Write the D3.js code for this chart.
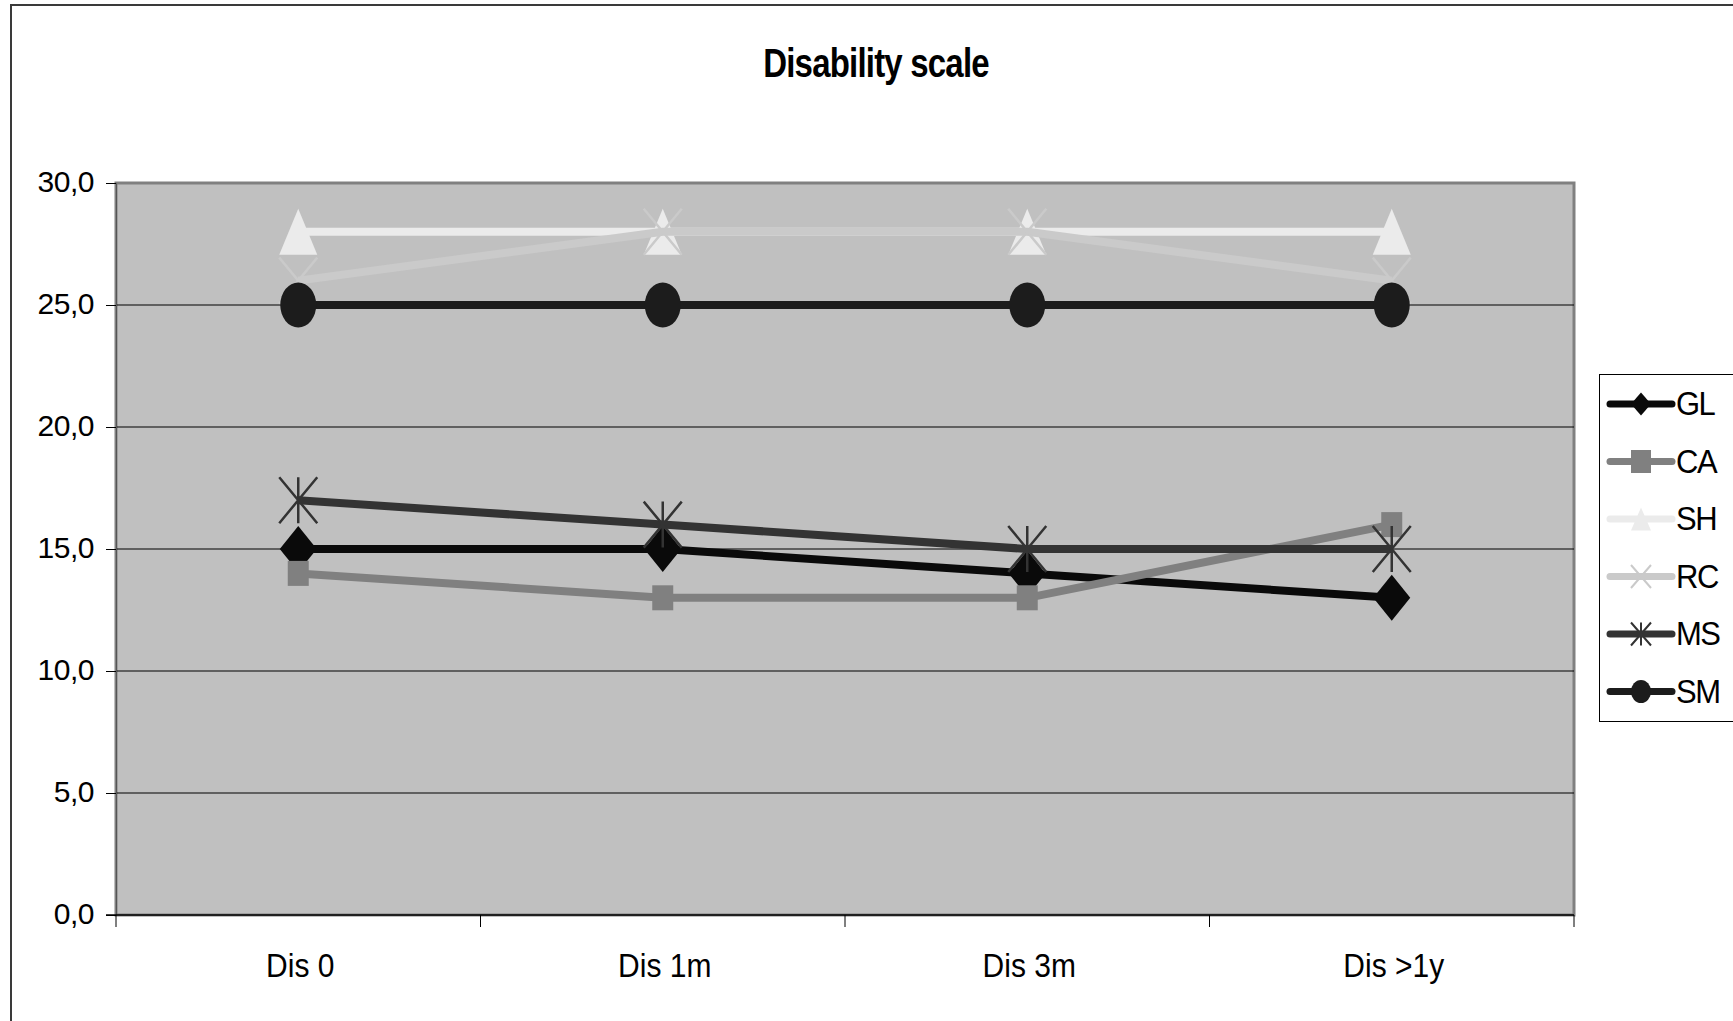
<!DOCTYPE html>
<html>
<head>
<meta charset="utf-8">
<script src="https://cdn.jsdelivr.net/npm/d3@7"></script>
<style>
  html, body { margin: 0; padding: 0; background: #fff; }
  svg { display: block; font-family: "Liberation Sans", Arial, sans-serif; }
</style>
</head>
<body>
<svg id="chart" width="1733" height="1021"></svg>
<script>
// ---- data ----
const categories = ["Dis 0", "Dis 1m", "Dis 3m", "Dis >1y"];
const seriesNames = ["GL", "CA", "SH", "RC", "MS", "SM"];
const GL = [15, 15, 14, 13];
const CA = [14, 13, 13, 16];
const SH = [28, 28, 28, 28];
const RC = [26, 28, 28, 26];
const MS = [17, 16, 15, 15];
const SM = [25, 25, 25, 25];
const yTicks = [0, 5, 10, 15, 20, 25, 30];
const title = "Disability scale";

// ---- styles ----
const seriesValues = { GL, CA, SH, RC, MS, SM };
const styles = {
  GL: { color: "#0a0a0a", marker: "diamond", w: 37, h: 46, lw: 20, lh: 23 },
  CA: { color: "#808080", marker: "square", w: 21, h: 25, lw: 20, lh: 23 },
  SH: { color: "#ebebeb", marker: "triangle", w: 38, h: 46, lw: 20, lh: 23 },
  RC: { color: "#cacaca", marker: "x", w: 38, h: 46, lw: 20, lh: 23 },
  MS: { color: "#333333", marker: "star", w: 38, h: 46, lw: 20, lh: 23 },
  SM: { color: "#1c1c1c", marker: "circle", w: 36, h: 45, lw: 20, lh: 23 }
};

function markerPath(type, w, h) {
  const a = w / 2, b = h / 2;
  switch (type) {
    case "diamond": return `M0,${-b}L${a},0L0,${b}L${-a},0Z`;
    case "square": return `M${-a},${-b}H${a}V${b}H${-a}Z`;
    case "triangle": return `M0,${-b}L${a},${b}L${-a},${b}Z`;
    case "x": return `M${-a},${-b}L${a},${b}M${a},${-b}L${-a},${b}`;
    case "star": return `M${-a},${-b}L${a},${b}M${a},${-b}L${-a},${b}M0,${-b}V${b}`;
    case "circle": return `M${-a},0A${a},${b} 0 1,0 ${a},0A${a},${b} 0 1,0 ${-a},0Z`;
  }
}
function isStroked(type) { return type === "x" || type === "star"; }

const svg = d3.select("#chart");

// outer chart frame
svg.append("rect")
  .attr("x", 11).attr("y", 5).attr("width", 1800).attr("height", 1100)
  .attr("fill", "#fff").attr("stroke", "#3a3a3a").attr("stroke-width", 2);

// title
svg.append("g")
  .attr("transform", "translate(876,77) scale(1,1.22)")
  .append("text")
  .attr("text-anchor", "middle")
  .attr("font-weight", "bold")
  .attr("font-size", 33)
  .attr("letter-spacing", -0.8)
  .attr("fill", "#000")
  .text(title);

// scales
const x0 = 116, x1 = 1574, yTop = 183, yBot = 915;
const x = d3.scaleBand().domain(categories).range([x0, x1]).padding(0);
const xc = c => x(c) + x.bandwidth() / 2;
const y = d3.scaleLinear().domain([0, 30]).range([yBot, yTop]);

// plot area
svg.append("rect")
  .attr("x", x0).attr("y", yTop).attr("width", x1 - x0).attr("height", yBot - yTop)
  .attr("fill", "#c0c0c0").attr("stroke", "#808080").attr("stroke-width", 3);

// gridlines
svg.append("g").selectAll("line")
  .data(yTicks.filter(d => d > 0 && d < 30))
  .join("line")
  .attr("x1", x0).attr("x2", x1)
  .attr("y1", d => y(d)).attr("y2", d => y(d))
  .attr("stroke", "#000").attr("stroke-width", 1);

// y axis
const yAxis = svg.append("g")
  .attr("transform", `translate(${x0},0)`)
  .call(d3.axisLeft(y).tickValues(yTicks)
    .tickFormat(d => d3.format(".1f")(d).replace(".", ","))
    .tickSize(10).tickPadding(12));
yAxis.select(".domain").attr("stroke", "#555").attr("stroke-width", 1);
yAxis.selectAll(".tick line").attr("stroke", "#000");
yAxis.selectAll(".tick text")
  .attr("font-size", 30).attr("font-family", "Liberation Sans, Arial, sans-serif")
  .attr("letter-spacing", -0.5)
  .attr("fill", "#000").attr("dy", "0.27em");

// x axis line and ticks at category boundaries
svg.append("line")
  .attr("x1", x0 - 10).attr("x2", x1).attr("y1", yBot).attr("y2", yBot)
  .attr("stroke", "#000").attr("stroke-width", 1.5);
const bounds = categories.map(c => x(c)).concat([x1]);
svg.append("g").selectAll("line")
  .data(bounds).join("line")
  .attr("x1", d => d).attr("x2", d => d)
  .attr("y1", yBot).attr("y2", yBot + 12)
  .attr("stroke", "#000").attr("stroke-width", 1);
svg.append("g").selectAll("g")
  .data(categories).join("g")
  .attr("transform", d => `translate(${xc(d) + 2},976.5) scale(1,1.12)`)
  .append("text")
  .attr("text-anchor", "middle")
  .attr("font-size", 30)
  .attr("fill", "#000")
  .text(d => d);

// series
const line = d3.line().x((d, i) => xc(categories[i])).y(d => y(d));
const plot = svg.append("g");
seriesNames.forEach(name => {
  const s = styles[name];
  const vals = seriesValues[name];
  const g = plot.append("g");
  g.append("path")
    .attr("d", line(vals))
    .attr("fill", "none")
    .attr("stroke", s.color)
    .attr("stroke-width", 8)
    .attr("stroke-linejoin", "round");
  g.selectAll("path.m")
    .data(vals).join("path")
    .attr("class", "m")
    .attr("transform", (d, i) => `translate(${xc(categories[i])},${y(d)})`)
    .attr("d", markerPath(s.marker, s.w, s.h))
    .attr("fill", isStroked(s.marker) ? "none" : s.color)
    .attr("stroke", s.color)
    .attr("stroke-width", isStroked(s.marker) ? 2.5 : 0);
});

// legend
const lg = svg.append("g");
lg.append("rect")
  .attr("x", 1599.5).attr("y", 374.5).attr("width", 140).attr("height", 347)
  .attr("fill", "#fff").attr("stroke", "#000").attr("stroke-width", 1);
seriesNames.forEach((name, i) => {
  const s = styles[name];
  const cy = 404 + i * 57.5;
  const item = lg.append("g");
  item.append("line")
    .attr("x1", 1610).attr("x2", 1672).attr("y1", cy).attr("y2", cy)
    .attr("stroke", s.color).attr("stroke-width", 7).attr("stroke-linecap", "round");
  item.append("path")
    .attr("transform", `translate(1641,${cy})`)
    .attr("d", markerPath(s.marker, s.lw, s.lh))
    .attr("fill", isStroked(s.marker) ? "none" : s.color)
    .attr("stroke", s.color)
    .attr("stroke-width", isStroked(s.marker) ? 2 : 0);
  item.append("g")
    .attr("transform", `translate(1676,${cy + 11}) scale(1,1.1)`)
    .append("text")
    .attr("font-size", 31)
    .attr("letter-spacing", -1.5)
    .attr("fill", "#000")
    .text(name);
});
</script>
</body>
</html>
